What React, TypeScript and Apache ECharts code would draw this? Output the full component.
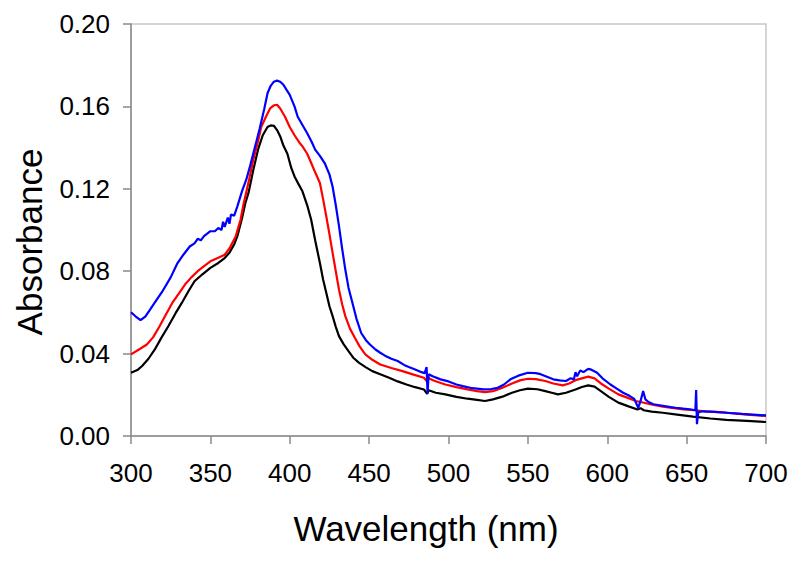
import React, { useEffect, useRef } from "react";
import * as echarts from "echarts";

const xTicks = [300, 350, 400, 450, 500, 550, 600, 650, 700];
const yTicks = [0, 0.04, 0.08, 0.12, 0.16, 0.2];

const blueWl = [300, 303, 306, 309, 312, 316, 320, 325, 329, 333, 337, 340, 342, 344, 346, 350, 353, 355, 357, 358, 359, 361, 362, 363, 365, 367, 370, 372.6, 375, 378, 381, 384, 386, 388, 390, 392, 394, 396, 398, 400, 403, 405, 408, 411, 414, 416, 419, 422, 425, 427, 429, 431, 433, 435, 437, 439.5, 442, 445, 448, 450.5, 454, 457, 460, 464, 468, 472, 475, 479, 483, 485, 486.2, 486.8, 487.5, 490, 495, 500, 505, 509, 515, 522, 527, 531, 535, 539, 544, 550, 555, 558, 562, 566, 570, 574, 577, 579, 580, 581, 583, 585, 588, 590, 593.6, 597, 602, 606, 610, 614, 617, 619.5, 621, 622.6, 624, 626, 629, 635, 640, 643, 648, 652, 655.5, 656, 656.5, 657.3, 660, 668, 675, 685, 700];
const blueAbs = [0.0601, 0.058, 0.0562, 0.058, 0.0614, 0.066, 0.0705, 0.077, 0.0835, 0.088, 0.092, 0.0935, 0.0957, 0.095, 0.097, 0.0994, 0.0995, 0.101, 0.1, 0.104, 0.1015, 0.106, 0.103, 0.1075, 0.107, 0.1115, 0.119, 0.1244, 0.131, 0.14, 0.149, 0.159, 0.1664, 0.17, 0.172, 0.1725, 0.172, 0.1705, 0.168, 0.1656, 0.16, 0.155, 0.151, 0.147, 0.1425, 0.139, 0.136, 0.1325, 0.127, 0.121, 0.112, 0.102, 0.091, 0.0808, 0.072, 0.0646, 0.057, 0.05, 0.0465, 0.0444, 0.042, 0.0404, 0.039, 0.0375, 0.0364, 0.0345, 0.0335, 0.0323, 0.031, 0.0305, 0.0335, 0.0205, 0.03, 0.029, 0.0275, 0.0265, 0.025, 0.0242, 0.0232, 0.0226, 0.0228, 0.0234, 0.025, 0.0275, 0.0293, 0.0307, 0.0305, 0.03, 0.0288, 0.0275, 0.027, 0.0267, 0.028, 0.0275, 0.031, 0.029, 0.0318, 0.031, 0.0326, 0.0322, 0.0307, 0.028, 0.025, 0.023, 0.021, 0.0195, 0.018, 0.0137, 0.017, 0.0218, 0.0178, 0.0165, 0.0154, 0.0147, 0.014, 0.0137, 0.0133, 0.013, 0.0125, 0.0223, 0.0057, 0.0115, 0.012, 0.0117, 0.0113, 0.0107, 0.01];

const redWl = [300, 305, 310, 314, 318, 322, 326, 330, 334, 338, 342, 346, 350, 355, 359, 362, 366, 369, 371, 374, 377, 380, 382, 385, 387.6, 390, 392, 394, 397, 400, 403, 406, 408, 411, 413.5, 416, 419, 421, 423, 425, 427, 429, 431, 433, 435, 438, 441, 444, 447.6, 452, 457, 464, 471, 478, 484.5, 486.5, 487.5, 491, 498, 505, 512, 518, 523, 528, 534, 540, 545, 550, 555, 561, 566, 572, 576, 580, 584, 588, 592, 596, 601, 607, 613, 618, 621, 627, 635, 642, 648, 655, 662, 675, 688, 700];
const redAbs = [0.0396, 0.042, 0.0444, 0.048, 0.0533, 0.059, 0.0646, 0.069, 0.0735, 0.077, 0.08, 0.0825, 0.0848, 0.0865, 0.088, 0.091, 0.097, 0.105, 0.113, 0.123, 0.134, 0.143, 0.15, 0.155, 0.159, 0.1605, 0.1608, 0.159, 0.155, 0.15, 0.146, 0.1425, 0.1406, 0.137, 0.1325, 0.128, 0.1228, 0.115, 0.1067, 0.098, 0.0889, 0.08, 0.0711, 0.064, 0.0582, 0.052, 0.0477, 0.0435, 0.0396, 0.037, 0.0347, 0.033, 0.0315, 0.0298, 0.0283, 0.0265, 0.028, 0.0268, 0.025, 0.0237, 0.0226, 0.0218, 0.0213, 0.0218, 0.0234, 0.0255, 0.027, 0.0278, 0.0276, 0.0267, 0.0255, 0.0246, 0.0255, 0.0271, 0.028, 0.0288, 0.028, 0.0255, 0.023, 0.0202, 0.0185, 0.017, 0.0165, 0.0155, 0.0142, 0.0135, 0.0129, 0.0125, 0.012, 0.0113, 0.0104, 0.0097];

const blackWl = [300, 304, 307, 311, 315, 319, 323.5, 328, 332, 336, 340, 345, 350, 355, 359, 362, 365, 367, 370, 372, 374, 377, 380, 383, 386, 388, 390, 392, 394, 396, 398.5, 401, 403, 405, 408, 411, 413.5, 416, 419, 421, 423, 425, 427, 429, 431, 434, 437, 440, 443.5, 448, 452, 457, 462.6, 468, 473.5, 479, 484.5, 486.5, 487.5, 492, 498, 505, 512, 518, 523, 528, 534, 540, 545, 550, 556, 561, 565, 569, 574, 580, 584, 588, 592, 596, 601, 607, 613, 619, 621, 623, 628, 635, 644, 654, 665, 675, 688, 700];
const blackAbs = [0.0307, 0.032, 0.034, 0.0375, 0.042, 0.0475, 0.0533, 0.0595, 0.0646, 0.07, 0.0751, 0.0785, 0.0816, 0.084, 0.0864, 0.089, 0.093, 0.097, 0.106, 0.113, 0.118, 0.129, 0.139, 0.146, 0.15, 0.1508, 0.1506, 0.1485, 0.1454, 0.141, 0.137, 0.13, 0.126, 0.123, 0.1188, 0.112, 0.105, 0.095, 0.084, 0.076, 0.0695, 0.063, 0.0582, 0.053, 0.0485, 0.0445, 0.0412, 0.038, 0.0356, 0.0333, 0.0315, 0.03, 0.0283, 0.0265, 0.025, 0.0237, 0.0226, 0.0205, 0.0222, 0.021, 0.0202, 0.019, 0.0181, 0.0175, 0.017, 0.0178, 0.0191, 0.021, 0.0222, 0.023, 0.0227, 0.0218, 0.021, 0.0202, 0.021, 0.0226, 0.0238, 0.0246, 0.024, 0.0218, 0.019, 0.0162, 0.0145, 0.0129, 0.0135, 0.0125, 0.0118, 0.0113, 0.0104, 0.0094, 0.0085, 0.0078, 0.0073, 0.0068];

const FONT = "'Liberation Sans', Arial, sans-serif";

function pairs(xs: number[], ys: number[]) {
  return xs.map((x, i) => [x, ys[i]]);
}

export default function App() {
  const ref = useRef<HTMLDivElement>(null);
  useEffect(() => {
    if (!ref.current) return;
    const chart = echarts.init(ref.current, null, { renderer: "svg" });
    const axisGrey = "#8a8a8a";
    chart.setOption({
      animation: false,
      backgroundColor: "#ffffff",
      grid: {
        left: 131,
        right: 34,
        top: 24,
        bottom: 126,
        show: true,
        borderColor: "#c8c8c8",
        borderWidth: 1.5,
        backgroundColor: "transparent",
      },
      xAxis: {
        type: "value",
        min: xTicks[0],
        max: xTicks[xTicks.length - 1],
        interval: 50,
        axisLine: { show: true, lineStyle: { color: axisGrey, width: 1.5 } },
        axisTick: { show: true, length: 8, lineStyle: { color: axisGrey, width: 1.5 } },
        splitLine: { show: false },
        axisLabel: {
          margin: 24,
          fontSize: 26,
          fontFamily: FONT,
          color: "#000",
        },
      },
      yAxis: {
        type: "value",
        min: yTicks[0],
        max: yTicks[yTicks.length - 1],
        interval: 0.04,
        axisLine: { show: true, lineStyle: { color: axisGrey, width: 1.5 } },
        axisTick: { show: true, length: 8, lineStyle: { color: axisGrey, width: 1.5 } },
        splitLine: { show: false },
        axisLabel: {
          margin: 21,
          fontSize: 26,
          fontFamily: FONT,
          color: "#000",
          formatter: (v: number) => v.toFixed(2),
        },
      },
      graphic: [
        {
          type: "text",
          x: 426,
          y: 528,
          style: {
            text: "Wavelength (nm)",
            fontSize: 35,
            fontFamily: FONT,
            fill: "#000",
            textAlign: "center",
            textVerticalAlign: "middle",
          },
        },
        {
          type: "text",
          x: 29,
          y: 242,
          rotation: Math.PI / 2,
          style: {
            text: "Absorbance",
            fontSize: 35,
            fontFamily: FONT,
            fill: "#000",
            textAlign: "center",
            textVerticalAlign: "middle",
          },
        },
      ],
      series: [
        {
          type: "line",
          data: pairs(blackWl, blackAbs),
          showSymbol: false,
          silent: true,
          lineStyle: { color: "#000000", width: 2.2 },
        },
        {
          type: "line",
          data: pairs(redWl, redAbs),
          showSymbol: false,
          silent: true,
          lineStyle: { color: "#ff0000", width: 2.2 },
        },
        {
          type: "line",
          data: pairs(blueWl, blueAbs),
          showSymbol: false,
          silent: true,
          lineStyle: { color: "#0000ff", width: 2.2 },
        },
      ],
    });
    return () => chart.dispose();
  }, []);
  return (
    <div
      ref={ref}
      style={{ position: "fixed", left: 0, top: 0, width: 800, height: 562 }}
    />
  );
}
